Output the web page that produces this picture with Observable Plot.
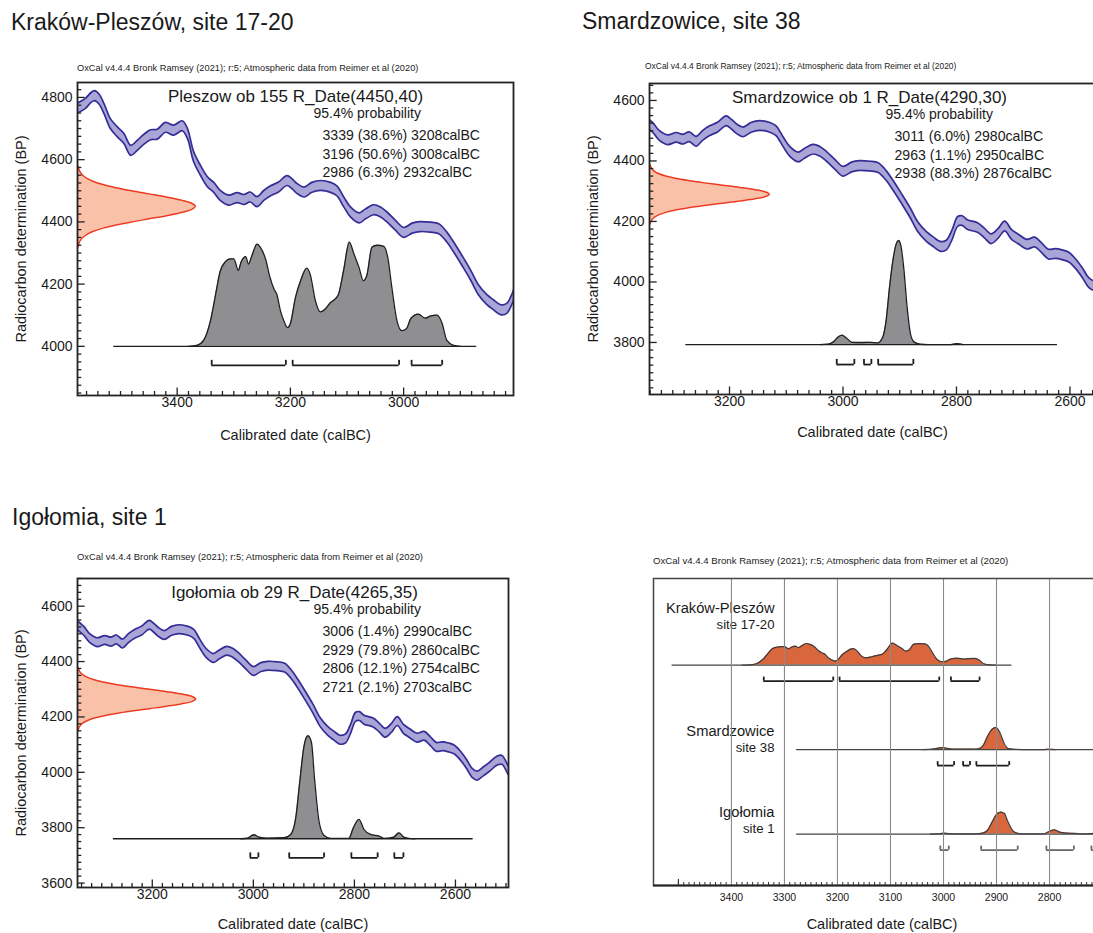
<!DOCTYPE html>
<html><head><meta charset="utf-8">
<script src="https://cdn.jsdelivr.net/npm/d3@7"></script>
<script src="https://cdn.jsdelivr.net/npm/@observablehq/plot@0.6"></script>
<style>
html,body{margin:0;padding:0;width:1093px;height:933px;overflow:hidden;background:#fff;}
#root{position:relative;width:1093px;height:933px;overflow:hidden;font-family:"Liberation Sans",Arial,Helvetica,sans-serif;color:#1a1a1a;}
.title{position:absolute;font-size:23px;line-height:1;white-space:nowrap;}
.sub{position:absolute;line-height:1;white-space:nowrap;color:#222;}
.panel{position:absolute;}
.panel svg{max-width:none !important;}
</style></head><body><div id="root"></div>
<script>
// ---------------- data ----------------
const panelTitles = ["Kraków-Pleszów, site 17-20", "Smardzowice, site 38", "Igołomia, site 1"];
const siteNames = ["Kraków-Pleszów", "Smardzowice", "Igołomia"];
const siteSubs = ["site 17-20", "site 38", "site 1"];
const sampleNames = ["Pleszow ob 155", "Smardzowice ob 1", "Igołomia ob 29"];
const rDates = [4450, 4290, 4265];
const rErrors = [40, 30, 35];
const probLabel = "95.4% probability";
const subtitle = "OxCal v4.4.4 Bronk Ramsey (2021); r:5; Atmospheric data from Reimer et al (2020)";
const xTitle = "Calibrated date (calBC)";
const yTitle = "Radiocarbon determination (BP)";

// 95.4% ranges: [from, percent, to]
const ranges0 = [[3339, 38.6, 3208], [3196, 50.6, 3008], [2986, 6.3, 2932]];
const ranges1 = [[3011, 6.0, 2980], [2963, 1.1, 2950], [2938, 88.3, 2876]];
const ranges2 = [[3006, 1.4, 2990], [2929, 79.8, 2860], [2806, 12.1, 2754], [2721, 2.1, 2703]];

// extent of each calibrated distribution's baseline (calBC)
const distExtent0 = [3512, 2871];
const distExtent1 = [3277, 2622];
const distExtent2 = [3277, 2565];

// calibrated probability (relative to max): [year calBC, p]
const dist0 = [[3380,0],[3365,0.01],[3353,0.06],[3341,0.25],[3332,0.5],[3324,0.72],[3315,0.81],[3306,0.84],[3300,0.84],[3292,0.73],[3287,0.81],[3279,0.86],[3274,0.79],[3268,0.87],[3259,0.98],[3253,0.95],[3244,0.84],[3236,0.66],[3229,0.55],[3224,0.5],[3218,0.35],[3212,0.25],[3205,0.18],[3200,0.22],[3191,0.47],[3182,0.63],[3171,0.75],[3165,0.69],[3156,0.44],[3147,0.33],[3138,0.36],[3129,0.42],[3124,0.44],[3115,0.5],[3106,0.73],[3096,1],[3088,0.89],[3079,0.76],[3071,0.63],[3065,0.68],[3056,0.95],[3047,0.97],[3035,0.96],[3028,0.85],[3021,0.57],[3012,0.25],[3003,0.15],[2995,0.17],[2987,0.27],[2974,0.31],[2962,0.27],[2953,0.29],[2941,0.3],[2932,0.22],[2924,0.06],[2912,0.01],[2900,0]];
const dist1 = [[3040,0],[3026,0.005],[3017,0.026],[3008,0.075],[3002,0.09],[2993,0.058],[2984,0.022],[2966,0.02],[2951,0.022],[2939,0.016],[2930,0.07],[2924,0.23],[2918,0.55],[2912,0.81],[2906,0.97],[2902,1],[2898,0.95],[2893,0.74],[2887,0.36],[2881,0.1],[2875,0.026],[2864,0.003],[2850,0],[2810,0],[2800,0.01],[2788,0]];
const dist2 = [[3025,0],[3012,0.005],[2999,0.039],[2989,0.016],[2972,0.006],[2939,0.01],[2926,0.042],[2916,0.205],[2908,0.56],[2900,0.89],[2892,1],[2885,0.935],[2879,0.59],[2870,0.17],[2860,0.032],[2847,0.003],[2811,0.003],[2802,0.107],[2791,0.188],[2781,0.09],[2768,0.042],[2751,0.026],[2741,0.003],[2722,0.016],[2712,0.058],[2702,0.016],[2692,0.003],[2680,0]];

// IntCal20 calibration curve: [year calBC, BP]
const calCurve = [[3580,4762],[3570,4772],[3562,4781],[3552,4800],[3546,4806],[3538,4795],[3529,4763],[3518,4716],[3506,4690],[3494,4668],[3482,4630],[3471,4645],[3459,4665],[3447,4680],[3435,4682],[3421,4704],[3406,4695],[3391,4709],[3382,4685],[3371,4610],[3359,4566],[3347,4530],[3335,4510],[3324,4485],[3309,4470],[3294,4478],[3282,4472],[3271,4480],[3259,4465],[3247,4485],[3235,4500],[3221,4512],[3206,4533],[3197,4522],[3188,4507],[3176,4496],[3162,4511],[3147,4517],[3129,4511],[3118,4500],[3106,4465],[3094,4432],[3079,4413],[3068,4425],[3053,4439],[3041,4432],[3029,4415],[3015,4390],[3000,4366],[2985,4380],[2971,4385],[2953,4383],[2938,4378],[2924,4352],[2912,4320],[2897,4276],[2882,4230],[2868,4182],[2853,4150],[2841,4133],[2829,4118],[2818,4122],[2808,4155],[2798,4200],[2790,4203],[2781,4190],[2763,4180],[2751,4162],[2739,4143],[2727,4160],[2715,4185],[2703,4157],[2691,4142],[2676,4125],[2662,4132],[2650,4113],[2638,4092],[2626,4094],[2614,4090],[2602,4082],[2590,4060],[2578,4030],[2567,3998],[2557,3988],[2545,4003],[2534,4018],[2518,4042],[2508,4045],[2495,4006],[2488,3992]];
const calSigma = 16;

// shape of the measured radiocarbon date: [offset in sigma, relative height]
const normalShape = [[-3.25,0.005],[-3,0.011],[-2.75,0.023],[-2.5,0.044],[-2.25,0.08],[-2,0.135],[-1.75,0.216],[-1.5,0.325],[-1.25,0.458],[-1,0.607],[-0.75,0.755],[-0.5,0.882],[-0.25,0.969],[0,1],[0.25,0.969],[0.5,0.882],[0.75,0.755],[1,0.607],[1.25,0.458],[1.5,0.325],[1.75,0.216],[2,0.135],[2.25,0.08],[2.5,0.044],[2.75,0.023],[3,0.011],[3.25,0.005]];

const xTicks0 = [3400, 3200, 3000];
const xTicks1 = [3200, 3000, 2800, 2600];
const xTicks2 = [3200, 3000, 2800, 2600];
const yTicks0 = [4000, 4200, 4400, 4600, 4800];
const yTicks1 = [3800, 4000, 4200, 4400, 4600];
const yTicks2 = [3600, 3800, 4000, 4200, 4400, 4600];
const multiTicks = [3400, 3300, 3200, 3100, 3000, 2900, 2800];

// ---------------- layout ----------------
const FONT = '"Liberation Sans", Arial, Helvetica, sans-serif';
const ranges = [ranges0, ranges1, ranges2];
const dists = [dist0, dist1, dist2];
const extents = [distExtent0, distExtent1, distExtent2];
const xTicks = [xTicks0, xTicks1, xTicks2];
const yTicks = [yTicks0, yTicks1, yTicks2];

const layout = [
  {left:0, top:74, width:540, height:380, mL:77, mR:27, mT:8, mB:59, xDom:[3576,2806], yDom:[3842,4848], base:4000, peakBP:335, bracketBP:3939, tickBP:16, redYears:208, xTitleDy:40, titleDx:218},
  {left:560, top:74, width:540, height:380, mL:89, mR:5, mT:9, mB:60, xDom:[3341,2555], yDom:[3628,4656], base:3793, peakBP:344, bracketBP:3727, tickBP:17, redYears:211, xTitleDy:38, titleDx:220},
  {left:0, top:570, width:540, height:370, mL:77, mR:32, mT:8, mB:53, xDom:[3348,2495], yDom:[3584,4700], base:3760, peakBP:372, bracketBP:3691, tickBP:18, redYears:234, xTitleDy:37, titleDx:217}
];
const titlePos = [{x:11, y:10.5}, {x:582, y:9.5}, {x:12, y:505.5}];
const subPos = [{x:77, y:64, s:9.25}, {x:645, y:62, s:8.45}, {x:77, y:552, s:9.4}, {x:653, y:556, s:9.65}];

const root = document.getElementById("root");
const fmtRange = r => `${r[0]} (${r[1].toFixed(1)}%) ${r[2]}calBC`;
const inDom = (v, dom) => v <= Math.max(...dom) && v >= Math.min(...dom);

function place(el, left, top, w, h) {
  const d = document.createElement("div");
  d.className = "panel"; d.style.left = left + "px"; d.style.top = top + "px";
  d.style.width = w + "px"; d.style.height = h + "px";
  el.style.maxWidth = "none";
  d.appendChild(el); root.appendChild(d);
}

function calPanel(i) {
  const P = layout[i];
  const innerW = P.width - P.mL - P.mR, innerH = P.height - P.mT - P.mB;
  const x0 = P.xDom[0];
  const cal = calCurve.map(([year, bp]) => ({year, bp}));
  const red = normalShape.map(([k, h]) => ({bp: rDates[i] + k * rErrors[i], h}));
  const dist = dists[i].map(([year, p]) => ({year, p}));
  const base = P.base;
  const xMinor = d3.range(3600, 2480, -20).filter(v => inDom(v, P.xDom) && !xTicks[i].includes(v));
  const yMinor = d3.range(3500, 4900, 25).filter(v => inDom(v, P.yDom) && !yTicks[i].includes(v));
  const ends = ranges[i].flatMap(r => [r[0], r[2]]);
  const tk = {stroke: "#222", strokeWidth: 1.3};
  return Plot.plot({
    width: P.width, height: P.height,
    marginLeft: P.mL, marginRight: P.mR, marginTop: P.mT, marginBottom: P.mB,
    x: {domain: P.xDom, axis: null}, y: {domain: P.yDom, axis: null},
    style: {fontFamily: FONT, color: "#1a1a1a", background: "transparent", overflow: "visible", maxWidth: "none"},
    marks: [
      Plot.areaY(cal, {x: "year", y1: d => d.bp - calSigma, y2: d => d.bp + calSigma, fill: "#aaa5d7", curve: "catmull-rom", clip: true}),
      Plot.line(cal, {x: "year", y: d => d.bp + calSigma, stroke: "#332d95", strokeWidth: 1.7, curve: "catmull-rom", clip: true}),
      Plot.line(cal, {x: "year", y: d => d.bp - calSigma, stroke: "#332d95", strokeWidth: 1.7, curve: "catmull-rom", clip: true}),
      Plot.areaX(red, {y: "bp", x1: x0, x2: d => x0 - d.h * P.redYears, fill: "#f9c2a8", curve: "catmull-rom"}),
      Plot.line(red, {y: "bp", x: d => x0 - d.h * P.redYears, stroke: "#ec3b23", strokeWidth: 1.5, curve: "catmull-rom"}),
      Plot.areaY(dist, {x: "year", y1: base, y2: d => base + d.p * P.peakBP, fill: "#8f8f91", curve: "monotone-x"}),
      Plot.line(dist, {x: "year", y: d => base + d.p * P.peakBP, stroke: "#1e1e1e", strokeWidth: 1.3, curve: "monotone-x"}),
      Plot.ruleY([base], {x1: extents[i][0], x2: extents[i][1], stroke: "#1e1e1e", strokeWidth: 1.4}),
      Plot.ruleY(ranges[i], {y: P.bracketBP, x1: r => r[0], x2: r => r[2], stroke: "#1e1e1e", strokeWidth: 1.8}),
      Plot.ruleX(ends, {y1: P.bracketBP, y2: P.bracketBP + P.tickBP, stroke: "#1e1e1e", strokeWidth: 1.8}),
      Plot.ruleX(xMinor, {...tk, insetTop: innerH - 4}),
      Plot.ruleX(xTicks[i], {...tk, insetTop: innerH - 7.5}),
      Plot.ruleY(yMinor, {...tk, insetRight: innerW - 4.3}),
      Plot.ruleY(yTicks[i], {...tk, insetRight: innerW - 7.7}),
      Plot.axisX(xTicks[i], {tickSize: 0, tickPadding: 2, fontSize: 14, tickFormat: d => String(d), label: null}),
      Plot.axisY(yTicks[i], {tickSize: 0, tickPadding: 5, fontSize: 14, tickFormat: d => String(d), label: null}),
      Plot.frame({stroke: "#222", strokeWidth: 1.8}),
      Plot.text([xTitle], {frameAnchor: "bottom", dy: P.xTitleDy, lineAnchor: "middle", textAnchor: "middle", fontSize: 14.5}),
      Plot.text([yTitle], {frameAnchor: "left", dx: -56, rotate: -90, lineAnchor: "middle", textAnchor: "middle", fontSize: 14.5}),
      Plot.text([`${sampleNames[i]} R_Date(${rDates[i]},${rErrors[i]})`], {frameAnchor: "top-left", dx: P.titleDx, dy: 14, lineAnchor: "middle", textAnchor: "middle", fontSize: 17}),
      Plot.text([probLabel], {frameAnchor: "top-left", dx: 236, dy: 31, lineAnchor: "middle", textAnchor: "start", fontSize: 14}),
      Plot.text([ranges[i].map(fmtRange).join("\n")], {frameAnchor: "top-left", dx: 245, dy: 44.8, lineAnchor: "top", textAnchor: "start", fontSize: 14.1, lineHeight: 18.5 / 14.1})
    ]
  });
}

// multiplot layout
const M = {left:600, top:570, width:520, height:370, mL:53, mR:10, mT:8, mB:55, xDom:[3547,2685], yDom:[-0.024,3.609], peak:0.26, bracket:0.19, tick:0.047, labelDx:121};
const multiLabelDy = [[-56.5, -40.5], [-18, -2], [-21.5, -5.5]];
const bracketColors = ["#1e1e1e", "#1e1e1e", "#6a6a6a"];

function multiPanel() {
  const innerH = M.height - M.mT - M.mB;
  const marks = [];
  [0, 1, 2].forEach(i => {
    const row = i + 1;
    const dist = dists[i].map(([year, p]) => ({year, p}));
    marks.push(
      Plot.areaY(dist, {x: "year", y1: row, y2: d => row - d.p * M.peak, fill: "#d9663c", curve: "monotone-x"}),
      Plot.line(dist, {x: "year", y: d => row - d.p * M.peak, stroke: "#3c3c3c", strokeWidth: 1.2, curve: "monotone-x"}),
      Plot.ruleY([row], {x1: extents[i][0], x2: extents[i][1], stroke: "#444", strokeWidth: 1.3}),
      Plot.ruleY(ranges[i], {y: row + M.bracket, x1: r => r[0], x2: r => r[2], stroke: bracketColors[i], strokeWidth: 1.8}),
      Plot.ruleX(ranges[i].flatMap(r => [r[0], r[2]]), {y1: row + M.bracket, y2: row + M.bracket - M.tick, stroke: bracketColors[i], strokeWidth: 1.8}),
      Plot.text([siteNames[i]], {x: M.xDom[0], y: row, dx: M.labelDx, dy: multiLabelDy[i][0], textAnchor: "end", lineAnchor: "middle", fontSize: 14.7}),
      Plot.text([siteSubs[i]], {x: M.xDom[0], y: row, dx: M.labelDx, dy: multiLabelDy[i][1], textAnchor: "end", lineAnchor: "middle", fontSize: 13.2})
    );
  });
  const minor = d3.range(3490, 2680, -10).filter(v => !multiTicks.includes(v));
  return Plot.plot({
    width: M.width, height: M.height,
    marginLeft: M.mL, marginRight: M.mR, marginTop: M.mT, marginBottom: M.mB,
    x: {domain: M.xDom, axis: null}, y: {domain: M.yDom, reverse: true, axis: null},
    style: {fontFamily: FONT, color: "#1a1a1a", background: "transparent", overflow: "visible", maxWidth: "none"},
    marks: [
      ...marks,
      Plot.ruleX(multiTicks, {stroke: "#8a8a8a", strokeWidth: 1.1}),
      Plot.ruleX(minor, {stroke: "#333", strokeWidth: 1, insetTop: innerH - 3}),
      Plot.ruleX([3500], {stroke: "#333", strokeWidth: 1.2, insetTop: innerH - 6}),
      Plot.frame({stroke: "#444", strokeWidth: 1.5}),
      Plot.ruleY([M.yDom[1]], {stroke: "#222", strokeWidth: 2.2}),
      Plot.axisX(multiTicks, {tickSize: 0, tickPadding: 8, fontSize: 10.5, tickFormat: d => String(d), label: null}),
      Plot.text([xTitle], {frameAnchor: "bottom", dy: 39, lineAnchor: "middle", textAnchor: "middle", fontSize: 14.5})
    ]
  });
}

// titles
panelTitles.forEach((t, i) => {
  const d = document.createElement("div");
  d.className = "title"; d.textContent = t;
  d.style.left = titlePos[i].x + "px"; d.style.top = titlePos[i].y + "px";
  root.appendChild(d);
});
subPos.forEach(p => {
  const d = document.createElement("div");
  d.className = "sub"; d.textContent = subtitle;
  d.style.left = p.x + "px"; d.style.top = p.y + "px"; d.style.fontSize = p.s + "px";
  root.appendChild(d);
});

[0, 1, 2].forEach(i => place(calPanel(i), layout[i].left, layout[i].top, layout[i].width, layout[i].height));
place(multiPanel(), M.left, M.top, M.width, M.height);
</script></body></html>
